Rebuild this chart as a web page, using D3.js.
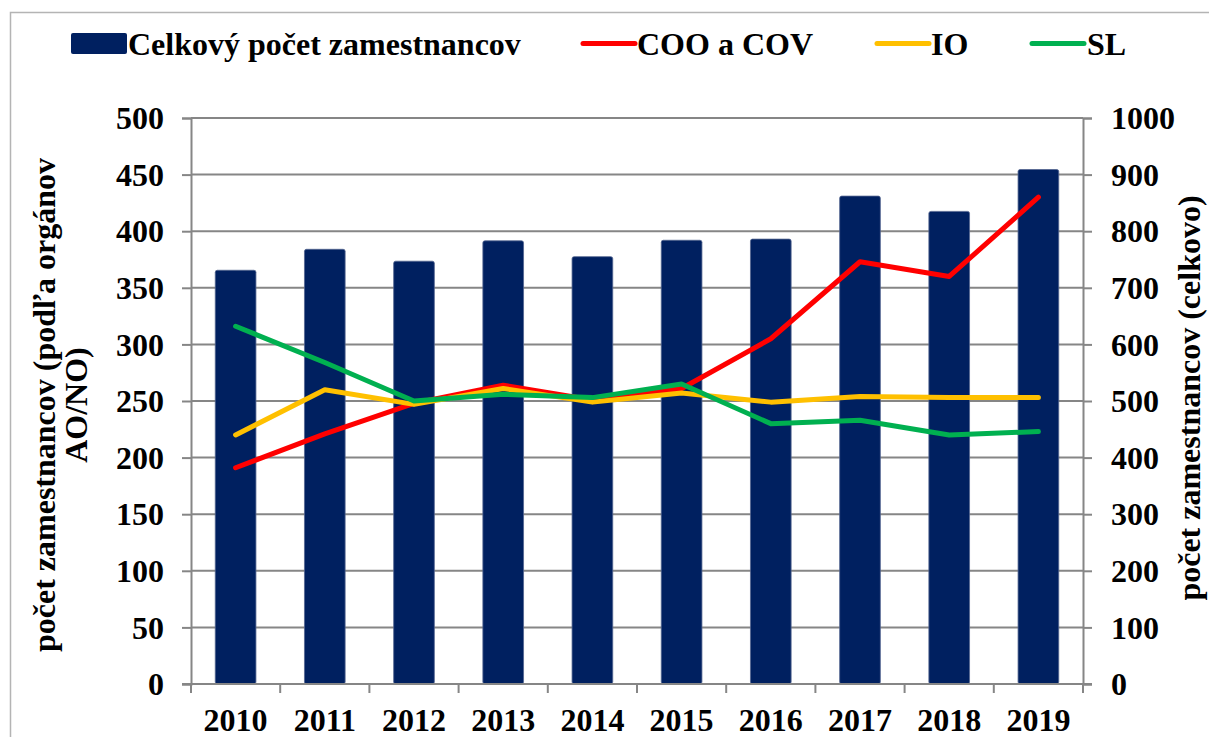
<!DOCTYPE html>
<html>
<head>
<meta charset="utf-8">
<script src="https://cdn.jsdelivr.net/npm/d3@7"></script>
<style>
  body { margin: 0; background: #fff; }
  svg text { font-family: "Liberation Serif", "Times New Roman", serif; font-weight: bold; fill: #000; }
</style>
</head>
<body>
<div id="chart"></div>
<script>
const years = ['2010', '2011', '2012', '2013', '2014', '2015', '2016', '2017', '2018', '2019']
const celkovo = [731, 768, 747, 783, 755, 784, 786, 862, 835, 909]
const cooCov = [191, 221, 248, 264, 251, 261, 305, 373, 360, 430]
const io = [220, 260, 247, 261, 249, 257, 249, 254, 253, 253]
const sl = [316, 284, 250, 256, 253, 265, 230, 233, 220, 223]

const leftTicks = d3.range(0, 501, 50)
const rightTicks = d3.range(0, 1001, 100)

const W = 1209, H = 737
const PLOT = { LEFT: 191, RIGHT: 1083, TOP: 118, BOTTOM: 684 }
const GRID = '#868686'
const FONT = 32

const svg = d3.select('#chart').append('svg')
	.attr('width', W)
	.attr('height', H)

// outer chart border (only top and left visible in the frame)
svg.append('path')
	.attr('d', `M10.5,${H} V12.5 H${W}`)
	.attr('fill', 'none')
	.attr('stroke', '#b4b4b4')
	.attr('stroke-width', 1.5)

const x = d3.scaleBand()
	.domain(years)
	.range([PLOT.LEFT, PLOT.RIGHT])
	.paddingInner(0.544)
	.paddingOuter(0.272)

const yL = d3.scaleLinear().domain([0, 500]).range([PLOT.BOTTOM, PLOT.TOP])
const yR = d3.scaleLinear().domain([0, 1000]).range([PLOT.BOTTOM, PLOT.TOP])

// gridlines
svg.append('g')
	.selectAll('line')
	.data(leftTicks.filter(d => d > 0))
	.join('line')
		.attr('x1', PLOT.LEFT)
		.attr('x2', PLOT.RIGHT)
		.attr('y1', d => yL(d))
		.attr('y2', d => yL(d))
		.attr('stroke', GRID)
		.attr('stroke-width', 2)

// bars
svg.append('g')
	.selectAll('rect')
	.data(years)
	.join('rect')
		.attr('x', d => x(d))
		.attr('width', x.bandwidth())
		.attr('y', (d, i) => yR(celkovo[i]))
		.attr('height', (d, i) => PLOT.BOTTOM - yR(celkovo[i]))
		.attr('rx', 2)
		.attr('fill', '#002060')
		.attr('stroke', '#53648f')
		.attr('stroke-width', 0.8)

// axes
const leftAxis = d3.axisLeft(yL).tickValues(leftTicks).tickSize(9).tickFormat('')
const rightAxis = d3.axisRight(yR).tickValues(rightTicks).tickSize(9).tickFormat('')
const bottomAxis = d3.axisBottom(x).tickSize(0).tickFormat('')

function styleAxis(g) {
	g.selectAll('path, line').attr('stroke', GRID).attr('stroke-width', 2)
}

svg.append('g').attr('transform', `translate(${PLOT.LEFT},0)`).call(leftAxis).call(styleAxis)
svg.append('g').attr('transform', `translate(${PLOT.RIGHT},0)`).call(rightAxis).call(styleAxis)

const xAxisG = svg.append('g').attr('transform', `translate(0,${PLOT.BOTTOM})`)
xAxisG.call(bottomAxis).call(styleAxis)
xAxisG.select('.domain').remove()
xAxisG.append('line')
	.attr('x1', PLOT.LEFT - 9).attr('x2', PLOT.RIGHT + 9)
	.attr('stroke', GRID).attr('stroke-width', 2)
// category boundary ticks
xAxisG.selectAll('.bnd')
	.data(years.concat(['end']))
	.join('line')
		.attr('class', 'bnd')
		.attr('x1', (d, i) => PLOT.LEFT + i * x.step())
		.attr('x2', (d, i) => PLOT.LEFT + i * x.step())
		.attr('y1', 0).attr('y2', 9)
		.attr('stroke', GRID).attr('stroke-width', 2)

// tick labels
svg.append('g')
	.selectAll('text')
	.data(leftTicks)
	.join('text')
		.attr('x', 164)
		.attr('y', d => yL(d))
		.attr('dy', '0.35em')
		.attr('text-anchor', 'end')
		.attr('font-size', FONT)
		.text(d => d)

svg.append('g')
	.selectAll('text')
	.data(rightTicks)
	.join('text')
		.attr('x', 1111)
		.attr('y', d => yR(d))
		.attr('dy', '0.35em')
		.attr('font-size', FONT)
		.text(d => d)

svg.append('g')
	.selectAll('text')
	.data(years)
	.join('text')
		.attr('x', d => x(d) + x.bandwidth() / 2)
		.attr('y', 731)
		.attr('text-anchor', 'middle')
		.attr('font-size', FONT)
		.text(d => d)

// axis titles
const leftTitle = svg.append('text')
	.attr('transform', `translate(55,405) rotate(-90)`)
	.attr('text-anchor', 'middle')
	.attr('font-size', FONT)
leftTitle.append('tspan').attr('x', 0).attr('dy', 0).text('počet zamestnancov (podľa orgánov')
leftTitle.append('tspan').attr('x', 0).attr('dy', 32).text('AO/NO)')

svg.append('text')
	.attr('transform', `translate(1200,398) rotate(-90)`)
	.attr('text-anchor', 'middle')
	.attr('font-size', FONT)
	.text('počet zamestnancov (celkovo)')

// lines
const series = [
	{ name: 'COO a COV', values: cooCov, color: '#ff0000' },
	{ name: 'IO', values: io, color: '#ffc000' },
	{ name: 'SL', values: sl, color: '#00b050' }
]

const line = d3.line()
	.x((d, i) => x(years[i]) + x.bandwidth() / 2)
	.y(d => yL(d))

svg.append('g')
	.selectAll('path')
	.data(series)
	.join('path')
		.attr('d', d => line(d.values))
		.attr('fill', 'none')
		.attr('stroke', d => d.color)
		.attr('stroke-width', 5)
		.attr('stroke-linecap', 'round')
		.attr('stroke-linejoin', 'round')

// legend
const legend = svg.append('g')
legend.append('rect')
	.attr('x', 71).attr('y', 33).attr('width', 56).attr('height', 21)
	.attr('rx', 2)
	.attr('fill', '#002060')
legend.append('text')
	.attr('x', 128).attr('y', 55)
	.attr('font-size', FONT)
	.text('Celkový počet zamestnancov')

const legendLines = [
	{ x: 581, tx: 637 },
	{ x: 875, tx: 931 },
	{ x: 1030, tx: 1087 }
]
series.forEach((s, i) => {
	const p = legendLines[i]
	legend.append('line')
		.attr('x1', p.x + 2).attr('x2', p.x + 54)
		.attr('y1', 43.5).attr('y2', 43.5)
		.attr('stroke', s.color)
		.attr('stroke-width', 5)
		.attr('stroke-linecap', 'round')
	legend.append('text')
		.attr('x', p.tx).attr('y', 55)
		.attr('font-size', FONT)
		.text(s.name)
})
</script>
</body>
</html>
